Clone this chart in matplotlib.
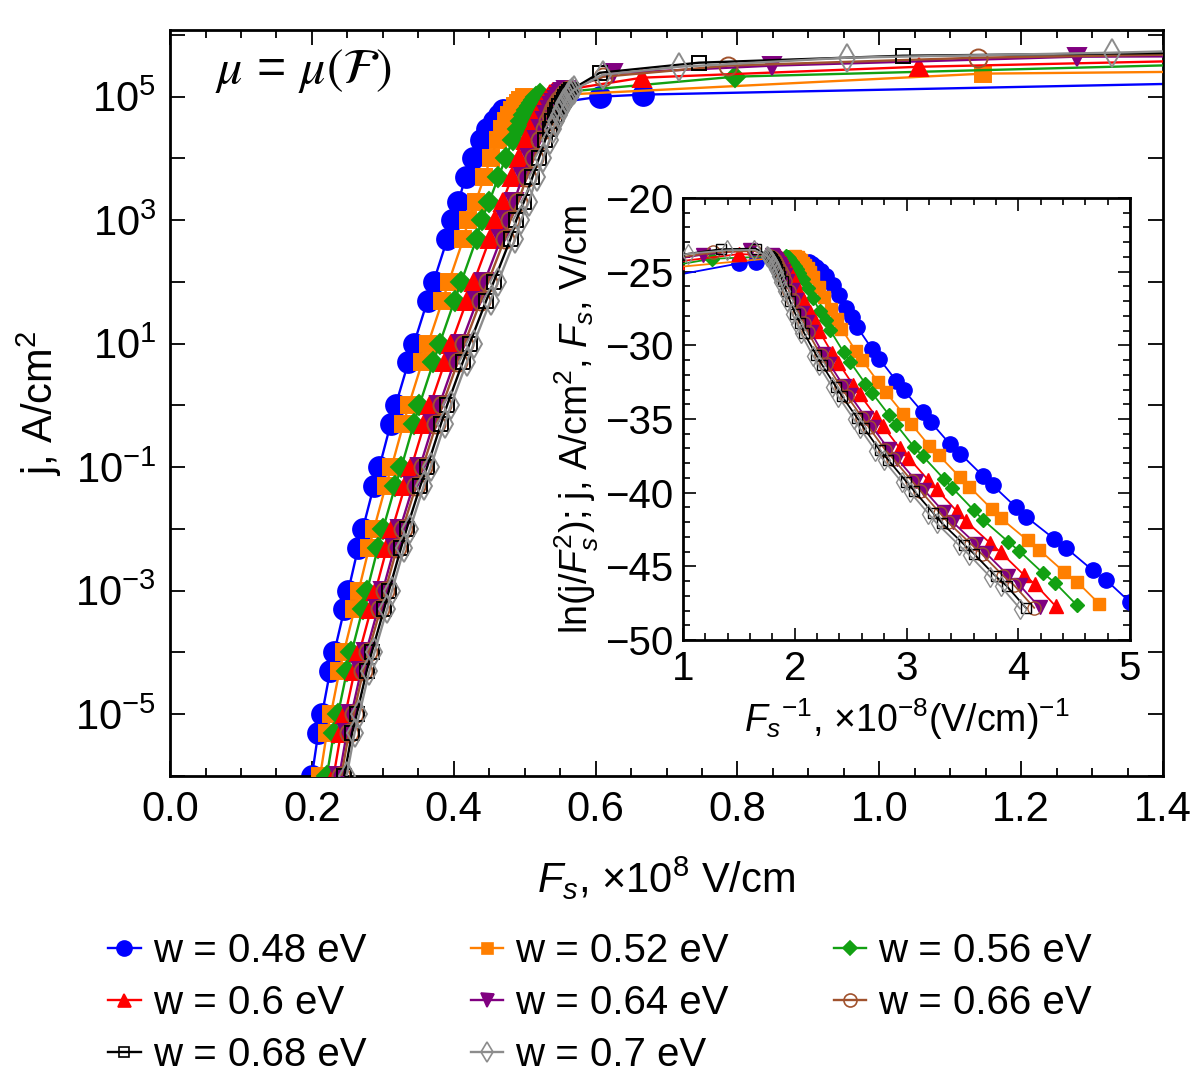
import numpy as np
import matplotlib.pyplot as plt
from matplotlib.lines import Line2D
from matplotlib.ticker import FixedLocator, FuncFormatter, MultipleLocator

plt.rcParams['font.family'] = ['Liberation Sans', 'DejaVu Sans']
plt.rcParams['mathtext.fontset'] = 'custom'
plt.rcParams['mathtext.rm'] = 'Liberation Sans'
plt.rcParams['mathtext.it'] = 'Liberation Sans:italic'
plt.rcParams['mathtext.bf'] = 'Liberation Sans:bold'
plt.rcParams['axes.unicode_minus'] = True

# ---- data: F in 1e8 V/cm, j in A/cm^2 ----
widths = ["0.48", "0.52", "0.56", "0.6", "0.64", "0.66", "0.68", "0.7"]
colors = ["#0000ff", "#ff7f00", "#12a012", "#ff0000", "#800080", "#a0522d", "#000000", "#8c8c8c"]
markers = ["o", "s", "D", "^", "v", "o", "s", "d"]
filled = [True, True, True, True, True, False, False, False]

# steep part, shared current grid
j_low = [1e-6, 5e-6, 1e-5, 5e-5, 1e-4, 5e-4, 1e-3, 5e-3, 1e-2, 5e-2, 1e-1,
         5e-1, 1, 5, 10, 50, 100, 500, 1000]
F_low = [
    [0.200, 0.209, 0.2143, 0.2257, 0.2315, 0.2457, 0.2513, 0.2653, 0.2717, 0.2874, 0.2951,
     0.311, 0.318, 0.336, 0.3439, 0.363, 0.3715, 0.391, 0.3975],
    [0.2116, 0.2211, 0.2267, 0.2388, 0.2449, 0.2600, 0.2659, 0.2807, 0.2875, 0.3041, 0.3122,
     0.3290, 0.3364, 0.3555, 0.3638, 0.3841, 0.3930, 0.4137, 0.4206],
    [0.2210, 0.2310, 0.2368, 0.2494, 0.2558, 0.2715, 0.2777, 0.2932, 0.3002, 0.3176, 0.3261,
     0.3437, 0.3514, 0.3713, 0.3800, 0.4011, 0.4105, 0.4321, 0.4392],
    [0.2306, 0.2410, 0.2471, 0.2602, 0.2669, 0.2833, 0.2897, 0.3059, 0.3133, 0.3314, 0.3402,
     0.3586, 0.3667, 0.3874, 0.3965, 0.4185, 0.4283, 0.4508, 0.4583],
    [0.2386, 0.2493, 0.2557, 0.2693, 0.2762, 0.2931, 0.2998, 0.3165, 0.3241, 0.3429, 0.3521,
     0.3710, 0.3794, 0.4008, 0.4103, 0.4331, 0.4432, 0.4665, 0.4742],
    [0.2414, 0.2523, 0.2587, 0.2724, 0.2794, 0.2966, 0.3033, 0.3202, 0.3279, 0.3469, 0.3562,
     0.3754, 0.3838, 0.4056, 0.4151, 0.4381, 0.4484, 0.4719, 0.4798],
    [0.2456, 0.2567, 0.2632, 0.2772, 0.2843, 0.3017, 0.3086, 0.3258, 0.3336, 0.3529, 0.3624,
     0.3819, 0.3905, 0.4126, 0.4223, 0.4458, 0.4562, 0.4801, 0.4881],
    [0.2490, 0.2602, 0.2668, 0.2810, 0.2882, 0.3059, 0.3129, 0.3303, 0.3383, 0.3578, 0.3674,
     0.3872, 0.3959, 0.4183, 0.4282, 0.4519, 0.4625, 0.4868, 0.4949],
]

# bend towards the plateau
j_top = [2e3, 5e3, 1e4, 2e4, 3e4, 4e4, 5e4, 6e4, 7e4, 8e4, 9e4, 1e5, 1.1e5, 1.2e5, 1.3e5]
F_top = [
    [0.4065, 0.4167, 0.427, 0.4386, 0.4474, 0.4566, 0.464, 0.470],
    [0.431, 0.443, 0.452, 0.462, 0.468, 0.473, 0.478, 0.482, 0.486, 0.490, 0.494, 0.499],
    [0.450, 0.463, 0.473, 0.483, 0.490, 0.495, 0.499, 0.503, 0.507, 0.510, 0.513, 0.516, 0.521],
    [0.469, 0.482, 0.492, 0.502, 0.509, 0.514, 0.518, 0.521, 0.524, 0.527, 0.530, 0.533, 0.536, 0.540],
    [0.485, 0.497, 0.507, 0.517, 0.523, 0.528, 0.532, 0.536, 0.539, 0.542, 0.545, 0.548, 0.551, 0.554, 0.558],
    [0.491, 0.503, 0.513, 0.522, 0.528, 0.533, 0.537, 0.540, 0.543, 0.546, 0.549, 0.552, 0.555, 0.558, 0.561],
    [0.499, 0.511, 0.520, 0.529, 0.535, 0.539, 0.543, 0.546, 0.549, 0.552, 0.555, 0.557, 0.560, 0.563, 0.566],
    [0.506, 0.517, 0.526, 0.535, 0.540, 0.544, 0.548, 0.551, 0.554, 0.556, 0.559, 0.561, 0.564, 0.567, 0.570],
]

# saturated high-field points
F_sat = [
    [0.606, 0.667, 1.55],
    [1.146, 1.55],
    [0.797, 1.55],
    [0.6655, 1.056, 1.55],
    [0.6246, 0.8487, 1.279, 1.55],
    [0.6105, 0.7867, 1.139, 1.55],
    [0.606, 0.7458, 1.033, 1.55],
    [0.61, 0.7176, 0.9545, 1.328, 1.55],
]
j_sat = [
    [1.0e5, 1.08e5, 1.74e5],
    [2.36e5, 2.61e5],
    [2.11e5, 3.56e5],
    [2.03e5, 3.05e5, 4.06e5],
    [2.4e5, 3.18e5, 4.44e5, 4.55e5],
    [2.1e5, 3.18e5, 4.28e5, 5.1e5],
    [2.44e5, 3.55e5, 4.6e5, 5.3e5],
    [2.27e5, 3.05e5, 4.28e5, 5.15e5, 5.97e5],
]

ms_main = [15, 11, 10, 13, 13, 13, 10, 14]
ms_ins = [11, 8, 7.5, 9.5, 9.5, 9.5, 7.5, 10]

fig = plt.figure(figsize=(12, 10.92), dpi=100)
ax = fig.add_axes([0.1417, 0.2894, 0.8275, 0.6831])
axi = fig.add_axes([0.5692, 0.4139, 0.3725, 0.4048])

handles = []
for i in range(len(widths)):
    n_top = len(F_top[i])
    F = np.array(F_low[i] + F_top[i] + F_sat[i])
    j = np.array(j_low + j_top[:n_top] + j_sat[i])
    face = colors[i] if filled[i] else "none"
    ax.plot(F, j, color=colors[i], lw=1.7, marker=markers[i], ms=ms_main[i],
            mfc=face, mec=colors[i], mew=1.4, zorder=2 + i)
    x_inv = 1.0 / F
    y_ln = np.log(j / (F * 1e8) ** 2)
    axi.plot(x_inv, y_ln, color=colors[i], lw=1.3, marker=markers[i], ms=ms_ins[i],
             mfc=face, mec=colors[i], mew=1.0, zorder=2 + i)
    handles.append(Line2D([], [], color=colors[i], lw=1.7, marker=markers[i],
                          ms=ms_main[i] * 0.72, mfc=face, mec=colors[i], mew=1.2))

# main axes
ax.set_yscale("log")
ax.set_xlim(0, 1.4)
ax.set_ylim(1e-6, 1.2e6)
ax.xaxis.set_major_locator(MultipleLocator(0.2))
ax.xaxis.set_minor_locator(MultipleLocator(0.05))
ax.xaxis.set_major_formatter(FuncFormatter(lambda v, p: f"{v:.1f}"))
ax.yaxis.set_major_locator(FixedLocator([10.0 ** k for k in range(-6, 7)]))
ax.yaxis.set_minor_locator(FixedLocator([]))


def ylab(v, p):
    k = int(round(np.log10(v)))
    if k % 2 == 0:
        return ""
    return r"$10^{%d}$" % k


ax.yaxis.set_major_formatter(FuncFormatter(ylab))
ax.tick_params(which="both", direction="in", top=True, right=True, labelsize=30, width=1.3)
ax.tick_params(which="major", length=11, pad=10)
ax.tick_params(which="minor", length=6)
for s in ax.spines.values():
    s.set_linewidth(2.0)
ax.set_xlabel(r"$F_s$, ×10$^8$ V/cm", fontsize=30, labelpad=18)
ax.set_ylabel(r"j, A/cm$^2$", fontsize=30, labelpad=8)
ax.text(0.045, 0.945, r"$\mu$ = $\mu(\mathcal{F})$", transform=ax.transAxes, fontsize=36,
        ha="left", va="center", math_fontfamily="stix")

# inset
axi.set_xlim(1, 5)
axi.set_ylim(-50, -20)
axi.xaxis.set_major_locator(MultipleLocator(1))
axi.xaxis.set_minor_locator(MultipleLocator(0.2))
axi.yaxis.set_major_locator(MultipleLocator(5))
axi.yaxis.set_minor_locator(MultipleLocator(1))
axi.tick_params(which="both", direction="in", top=True, right=True, labelsize=29, width=1.2)
axi.tick_params(which="major", length=9, pad=7)
axi.tick_params(which="minor", length=5)
for s in axi.spines.values():
    s.set_linewidth(2.0)
axi.set_xlabel(r"$F_s$$^{-1}$, ×10$^{-8}$(V/cm)$^{-1}$", fontsize=27, labelpad=6)
axi.set_ylabel(r"ln(j/$F_s^2$); j, A/cm$^2$, $F_s$, V/cm", fontsize=27, labelpad=3)

order = [0, 3, 6, 1, 4, 7, 2, 5]
fig.legend([handles[k] for k in order], [f"w = {widths[k]} eV" for k in order],
           loc="upper center", bbox_to_anchor=(0.5, 0.165), ncol=3, frameon=False,
           fontsize=29, handlelength=0.8, handletextpad=0.3, columnspacing=2.6,
           labelspacing=0.35, borderpad=0)

fig.savefig("out.png", dpi=100)
